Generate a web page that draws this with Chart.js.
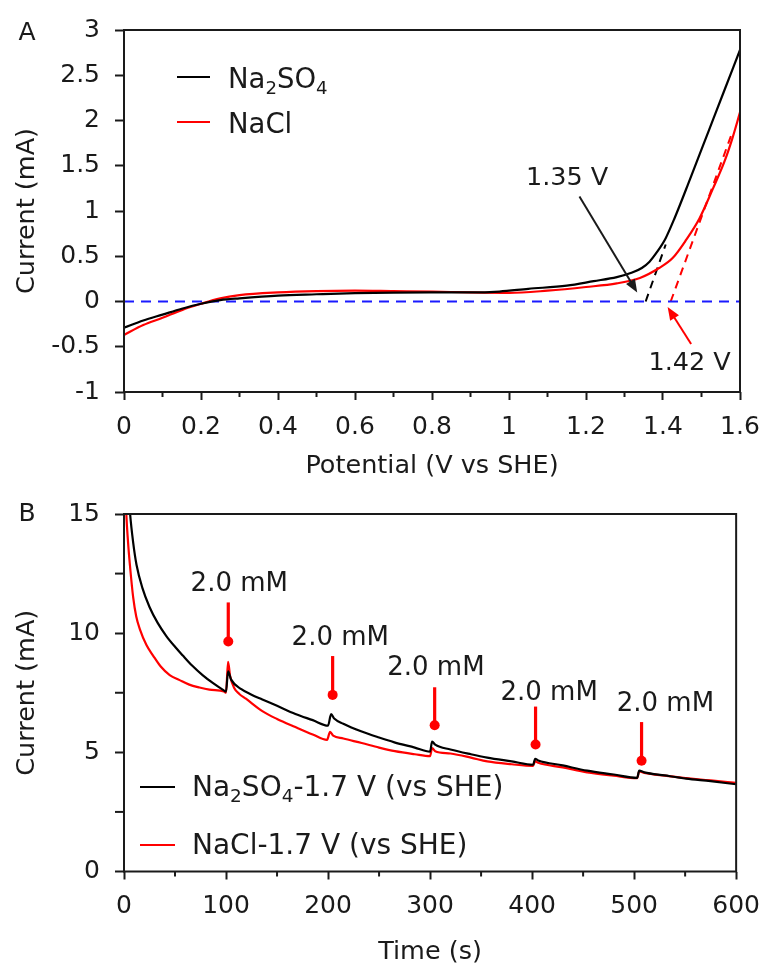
<!DOCTYPE html>
<html><head><meta charset="utf-8">
<script src="https://cdn.jsdelivr.net/npm/chart.js@4.4.1/dist/chart.umd.min.js"></script>
<style>
html,body{margin:0;padding:0;background:#fff;}
#wrap{position:relative;width:772px;height:969px;background:#fff;overflow:hidden;}
#wa{position:absolute;left:0;top:0;width:772px;height:484px;}
#wb{position:absolute;left:0;top:484px;width:772px;height:485px;}
</style></head><body>
<div id="wrap"><div id="wa"><canvas id="ca" width="772" height="484"></canvas></div><div id="wb"><canvas id="cb" width="772" height="485"></canvas></div></div>
<script>
// ---------- Panel A data (Potential V vs SHE, Current mA) ----------
const potentialNa2SO4 = [0, 0.05, 0.1, 0.15, 0.2, 0.25, 0.3, 0.4, 0.5, 0.6, 0.7, 0.8, 0.9, 0.975, 1.05, 1.15, 1.22, 1.28, 1.32, 1.345, 1.365, 1.385, 1.407, 1.43, 1.47, 1.52, 1.56, 1.6];
const currentNa2SO4   = [-0.29, -0.21, -0.145, -0.08, -0.025, 0.015, 0.035, 0.066, 0.08, 0.092, 0.098, 0.1, 0.1, 0.11, 0.14, 0.175, 0.225, 0.27, 0.32, 0.37, 0.44, 0.55, 0.7, 0.92, 1.35, 1.9, 2.34, 2.78];
const potentialNaCl = [0, 0.05, 0.1, 0.15, 0.2, 0.25, 0.3, 0.4, 0.5, 0.6, 0.7, 0.8, 0.9, 1.0, 1.1, 1.2, 1.28, 1.34, 1.39, 1.425, 1.46, 1.495, 1.53, 1.56, 1.58, 1.6];
const currentNaCl   = [-0.37, -0.26, -0.18, -0.095, -0.025, 0.035, 0.07, 0.1, 0.115, 0.12, 0.115, 0.11, 0.1, 0.095, 0.12, 0.16, 0.2, 0.26, 0.37, 0.48, 0.68, 0.92, 1.25, 1.55, 1.8, 2.09];
const baselinePotential = [0, 1.6];
const baselineCurrent = [0, 0];
const tangentNa2SO4Potential = [1.355, 1.407];
const tangentNa2SO4Current = [0, 0.63];
const tangentNaClPotential = [1.42, 1.58];
const tangentNaClCurrent = [0, 1.87];
const onsetLabels = ['1.35 V', '1.42 V'];
const onsetLabelPotential = [1.151, 1.469];
const onsetLabelCurrent = [1.36, -0.68];
const onsetArrowFromPotential = [1.183, 1.473];
const onsetArrowFromCurrent = [1.16, -0.47];
const onsetArrowToPotential = [1.333, 1.412];
const onsetArrowToCurrent = [0.10, -0.06];
const xTicksA = [0, 0.2, 0.4, 0.6, 0.8, 1, 1.2, 1.4, 1.6];
const xMinorA = [0.1, 0.3, 0.5, 0.7, 0.9, 1.1, 1.3, 1.5];
const yTicksA = [-1, -0.5, 0, 0.5, 1, 1.5, 2, 2.5, 3];

// ---------- Panel B data (Time s, Current mA) ----------
const timeNa2SO4 = [0, 2, 4, 6, 9, 12.3, 18, 25, 33, 41.5, 50, 57.7, 67, 77, 87, 96.7, 100, 102, 105, 115, 125, 135.6, 150, 168, 185, 200, 203, 206, 215, 233, 250, 265, 285, 300, 302, 305, 320, 340, 356, 380, 401, 403, 406, 430, 454, 480, 503, 505, 510, 530, 551, 575, 600];
const currentTimeNa2SO4 = [24, 18.5, 16.3, 15, 13.8, 12.86, 11.9, 11.1, 10.43, 9.88, 9.43, 9.06, 8.63, 8.24, 7.91, 7.63, 7.55, 8.4, 8.05, 7.65, 7.42, 7.22, 6.95, 6.61, 6.35, 6.12, 6.6, 6.42, 6.2, 5.87, 5.62, 5.42, 5.2, 5.03, 5.45, 5.32, 5.12, 4.92, 4.78, 4.62, 4.48, 4.73, 4.66, 4.45, 4.23, 4.07, 3.93, 4.23, 4.16, 4.03, 3.9, 3.79, 3.66];
const timeNaCl = [0, 1, 2, 4, 5.8, 9, 12, 15.6, 22, 28.5, 36, 44.8, 54.5, 64, 74, 83.7, 98, 100, 102, 104, 108, 113, 119.5, 135.6, 150, 168, 185, 199, 202, 205, 215, 233, 250, 265.5, 285, 300, 302, 305, 320, 340, 356, 380, 401, 403, 406, 430, 454, 480, 503, 505, 510, 530, 551, 575, 600];
const currentTimeNaCl = [22, 17, 15.3, 13.8, 12.86, 11.5, 10.7, 10.16, 9.5, 9.06, 8.6, 8.24, 8.03, 7.84, 7.72, 7.63, 7.55, 7.5, 8.8, 8.2, 7.7, 7.45, 7.25, 6.73, 6.4, 6.06, 5.75, 5.52, 5.86, 5.7, 5.58, 5.39, 5.2, 5.05, 4.92, 4.84, 5.18, 5.05, 4.95, 4.78, 4.62, 4.5, 4.43, 4.63, 4.56, 4.37, 4.16, 4.02, 3.92, 4.2, 4.14, 4.02, 3.92, 3.82, 3.72];
const additionTimes = [102.2, 204.5, 304.5, 403.4, 507.3];
const additionMarkerTop = [11.29, 9.04, 7.73, 6.92, 6.27];
const additionMarkerDot = [9.65, 7.41, 6.14, 5.33, 4.65];
const additionLabel = '2.0 mM';
const additionLabelTime = [113, 212, 305.7, 416.7, 530.7];
const additionLabelCurrent = [12.06, 9.78, 8.51, 7.49, 7.0];
const xTicksB = [0, 100, 200, 300, 400, 500, 600];
const xMinorB = [50, 150, 250, 350, 450, 550];
const yTicksB = [0, 5, 10, 15];
const yMinorB = [2.5, 7.5, 12.5];

// ---------- helpers ----------
const FONT = "'DejaVu Sans', sans-serif";
const INK = '#1a1a1a';
const RED = '#ff0000';
const pts = (xs, ys) => xs.map((x, i) => ({x, y: ys[i]}));
const SUB = {'₀':'0','₁':'1','₂':'2','₃':'3','₄':'4','₅':'5','₆':'6','₇':'7','₈':'8','₉':'9'};
function drawRich(ctx, text, x, y, size, color) {
  ctx.save();
  ctx.fillStyle = color; ctx.textAlign = 'left'; ctx.textBaseline = 'alphabetic';
  let cx = x;
  for (const ch of text) {
    if (SUB[ch]) {
      ctx.font = (size * 0.66) + 'px ' + FONT;
      ctx.fillText(SUB[ch], cx, y + size * 0.22);
      cx += ctx.measureText(SUB[ch]).width;
    } else {
      ctx.font = size + 'px ' + FONT;
      ctx.fillText(ch, cx, y);
      cx += ctx.measureText(ch).width;
    }
  }
  ctx.restore();
}
function arrow(ctx, x1, y1, x2, y2, color, head) {
  const a = Math.atan2(y2 - y1, x2 - x1);
  ctx.save();
  ctx.strokeStyle = color; ctx.fillStyle = color; ctx.lineWidth = 2;
  ctx.beginPath(); ctx.moveTo(x1, y1);
  ctx.lineTo(x2 - Math.cos(a) * head * 0.8, y2 - Math.sin(a) * head * 0.8); ctx.stroke();
  ctx.beginPath(); ctx.moveTo(x2, y2);
  ctx.lineTo(x2 - head * Math.cos(a) + head * 0.4 * Math.sin(a), y2 - head * Math.sin(a) - head * 0.4 * Math.cos(a));
  ctx.lineTo(x2 - head * Math.cos(a) - head * 0.4 * Math.sin(a), y2 - head * Math.sin(a) + head * 0.4 * Math.cos(a));
  ctx.closePath(); ctx.fill();
  ctx.restore();
}

const framePlugin = {
  id: 'frame',
  afterDatasetsDraw(chart, args, opts) {
    const {ctx, chartArea: a, scales} = chart;
    ctx.save();
    ctx.strokeStyle = INK; ctx.lineWidth = 2;
    ctx.strokeRect(a.left, a.top, a.right - a.left, a.bottom - a.top);
    (opts.xMinor || []).forEach(v => {
      const px = scales.x.getPixelForValue(v);
      ctx.beginPath(); ctx.moveTo(px, a.bottom); ctx.lineTo(px, a.bottom + opts.xMinorLen); ctx.stroke();
    });
    (opts.yMinor || []).forEach(v => {
      const py = scales.y.getPixelForValue(v);
      ctx.beginPath(); ctx.moveTo(a.left, py); ctx.lineTo(a.left - opts.yMinorLen, py); ctx.stroke();
    });
    ctx.fillStyle = INK; ctx.font = '25px ' + FONT; ctx.textAlign = 'center'; ctx.textBaseline = 'middle';
    ctx.fillText(opts.letter, 27, a.top + opts.letterDy);
    ctx.restore();
  }
};

const legendPlugin = {
  id: 'boxLegend',
  afterDraw(chart, args, opts) {
    const {ctx} = chart;
    opts.items.forEach((it, i) => {
      const ds = chart.data.datasets[it];
      const y = opts.y + i * opts.gap;
      ctx.save();
      ctx.strokeStyle = ds.borderColor; ctx.lineWidth = 2.2;
      ctx.beginPath(); ctx.moveTo(opts.x, y); ctx.lineTo(opts.x + opts.len, y); ctx.stroke();
      ctx.restore();
      drawRich(ctx, ds.label, opts.x + opts.len + opts.textGap, y + opts.baseDy, opts.size, INK);
    });
  }
};

const annotAPlugin = {
  id: 'annotA',
  afterDraw(chart) {
    const {ctx, scales: {x, y}} = chart;
    const colors = [INK, RED];
    onsetLabels.forEach((t, i) => {
      arrow(ctx, x.getPixelForValue(onsetArrowFromPotential[i]), y.getPixelForValue(onsetArrowFromCurrent[i]),
        x.getPixelForValue(onsetArrowToPotential[i]), y.getPixelForValue(onsetArrowToCurrent[i]), colors[i], 13);
      ctx.save();
      ctx.fillStyle = INK; ctx.font = '25.5px ' + FONT; ctx.textAlign = 'center'; ctx.textBaseline = 'middle';
      ctx.fillText(t, x.getPixelForValue(onsetLabelPotential[i]), y.getPixelForValue(onsetLabelCurrent[i]));
      ctx.restore();
    });
  }
};

const annotBPlugin = {
  id: 'annotB',
  afterDraw(chart) {
    const {ctx, scales: {x, y}} = chart;
    additionTimes.forEach((t, i) => {
      const px = x.getPixelForValue(t);
      const yTop = y.getPixelForValue(additionMarkerTop[i]);
      const yDot = y.getPixelForValue(additionMarkerDot[i]);
      ctx.save();
      ctx.strokeStyle = RED; ctx.fillStyle = RED; ctx.lineWidth = 3.2;
      ctx.beginPath(); ctx.moveTo(px, yTop); ctx.lineTo(px, yDot); ctx.stroke();
      ctx.beginPath(); ctx.arc(px, yDot, 5, 0, Math.PI * 2); ctx.fill();
      ctx.fillStyle = INK; ctx.font = '26px ' + FONT; ctx.textAlign = 'center'; ctx.textBaseline = 'middle';
      ctx.fillText(additionLabel, x.getPixelForValue(additionLabelTime[i]), y.getPixelForValue(additionLabelCurrent[i]));
      ctx.restore();
    });
  }
};

function axisCommon(ticksArr, tickLen, fitFn) {
  return {
    type: 'linear',
    afterBuildTicks: s => { s.ticks = ticksArr.map(v => ({value: v})); },
    afterFit: fitFn,
    border: {display: false},
    grid: {drawOnChartArea: false, drawTicks: true, tickLength: tickLen, tickWidth: 2, tickColor: INK, color: INK},
    ticks: {color: INK, font: {family: FONT, size: 25}, autoSkip: false, maxRotation: 0, callback: v => String(v)}
  };
}

Chart.defaults.animation = false;
Chart.defaults.font.family = FONT;

// ---------- Chart A ----------
const xA = axisCommon(xTicksA, 8, s => { s.height = 92; });
xA.min = 0; xA.max = 1.6; xA.ticks.padding = 12;
xA.title = {display: true, text: 'Potential (V vs SHE)', color: INK, font: {family: FONT, size: 25.5}, padding: {top: 0, bottom: 2}};
const yA = axisCommon(yTicksA, 9, s => { s.width = 124; });
yA.min = -1; yA.max = 3; yA.ticks.padding = 15;
yA.title = {display: true, text: 'Current (mA)', color: INK, font: {family: FONT, size: 25.5}, padding: {top: 12, bottom: 0}};

new Chart(document.getElementById('ca'), {
  type: 'line',
  data: {datasets: [
    {label: 'Na₂SO₄', data: pts(potentialNa2SO4, currentNa2SO4), borderColor: '#000000', borderWidth: 2.2, pointRadius: 0, cubicInterpolationMode: 'monotone'},
    {label: 'NaCl', data: pts(potentialNaCl, currentNaCl), borderColor: RED, borderWidth: 2.2, pointRadius: 0, cubicInterpolationMode: 'monotone'},
    {label: 'baseline', data: pts(baselinePotential, baselineCurrent), borderColor: '#1a1aff', borderWidth: 2.2, borderDash: [10, 7], pointRadius: 0},
    {label: 'tangent Na2SO4', data: pts(tangentNa2SO4Potential, tangentNa2SO4Current), borderColor: '#000000', borderWidth: 2, borderDash: [8, 6], pointRadius: 0},
    {label: 'tangent NaCl', data: pts(tangentNaClPotential, tangentNaClCurrent), borderColor: RED, borderWidth: 2, borderDash: [8, 6], pointRadius: 0}
  ]},
  options: {
    responsive: false, devicePixelRatio: 1, animation: false,
    layout: {padding: {top: 27, right: 32, left: 0, bottom: 0}},
    scales: {x: xA, y: yA},
    plugins: {
      legend: {display: false}, tooltip: {enabled: false},
      frame: {letter: 'A', letterDy: 3, xMinor: xMinorA, xMinorLen: 5, yMinor: [], yMinorLen: 0},
      boxLegend: {items: [0, 1], x: 177, y: 77, gap: 45, len: 33, textGap: 18, baseDy: 11, size: 27.5}
    }
  },
  plugins: [framePlugin, legendPlugin, annotAPlugin]
});

// ---------- Chart B ----------
const xB = axisCommon(xTicksB, 8, s => { s.height = 97.5; });
xB.min = 0; xB.max = 600; xB.ticks.padding = 12;
xB.title = {display: true, text: 'Time (s)', color: INK, font: {family: FONT, size: 25.5}, padding: {top: 0, bottom: 1.5}};
const yB = axisCommon(yTicksB, 9, s => { s.width = 124; });
yB.min = 0; yB.max = 15; yB.ticks.padding = 15;
yB.title = {display: true, text: 'Current (mA)', color: INK, font: {family: FONT, size: 25.5}, padding: {top: 12, bottom: 0}};

new Chart(document.getElementById('cb'), {
  type: 'line',
  data: {datasets: [
    {label: 'Na₂SO₄-1.7 V (vs SHE)', data: pts(timeNa2SO4, currentTimeNa2SO4), borderColor: '#000000', borderWidth: 2.2, pointRadius: 0, cubicInterpolationMode: 'monotone', clip: 0},
    {label: 'NaCl-1.7 V (vs SHE)', data: pts(timeNaCl, currentTimeNaCl), borderColor: RED, borderWidth: 2.2, pointRadius: 0, cubicInterpolationMode: 'monotone', clip: 0}
  ]},
  options: {
    responsive: false, devicePixelRatio: 1, animation: false,
    layout: {padding: {top: 19, right: 29, left: 0, bottom: 0}},
    scales: {x: xB, y: yB},
    plugins: {
      legend: {display: false}, tooltip: {enabled: false},
      frame: {letter: 'B', letterDy: 0, xMinor: xMinorB, xMinorLen: 5, yMinor: yMinorB, yMinorLen: 9},
      boxLegend: {items: [0, 1], x: 140, y: 303, gap: 58, len: 35, textGap: 17, baseDy: 9, size: 28}
    }
  },
  plugins: [framePlugin, legendPlugin, annotBPlugin]
});
</script>
</body></html>
